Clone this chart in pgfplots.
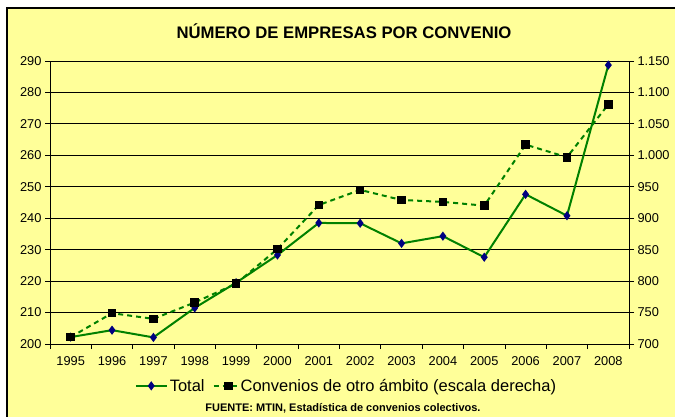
\documentclass[border=0pt]{standalone}
\usepackage{fontspec}
\setmainfont{Liberation Sans}
\usepackage{pgfplots}
\usepackage{pgfplotstable}
\pgfplotsset{compat=1.18}

\definecolor{bgyellow}{HTML}{FFFF99}
\definecolor{linegreen}{HTML}{008000}
\definecolor{navy}{HTML}{000080}

\pgfplotsset{
  totalleg/.style={legend image code/.code={
    \draw[##1,mark=none] (0pt,0pt) -- (31pt,0pt);
    \draw[##1,only marks] plot coordinates {(15.5pt,0pt)};}},
  convleg/.style={legend image code/.code={
    \draw[##1,mark=none] (0pt,0pt) -- (24pt,0pt);
    \draw[##1,only marks] plot coordinates {(15pt,0pt)};}},
}

% year index, total (left axis), convenios de otro ambito (right axis)
\pgfplotstableread{
x  total  conv
0  202.2  711
1  204.4  749
2  202.1  740
3  211.5  766
4  219.5  796
5  228.3  851
6  238.5  921
7  238.4  945
8  232.0  929
9  234.3  926
10 227.6  920
11 247.6  1017
12 240.8  997
13 288.7  1081
}\datatable

\begin{document}
\begin{tikzpicture}
\useasboundingbox (0,0) rectangle (675pt,-417pt);
\clip (0,0) rectangle (675pt,-417pt);
\fill[white] (0,0) rectangle (675pt,-417pt);
\filldraw[fill=bgyellow,draw=black,line width=1.2pt] (7pt,-8pt) rectangle (700pt,-440pt);

\node[font=\bfseries\fontsize{16.7}{19}\selectfont] at (344pt,-31pt) {NÚMERO DE EMPRESAS POR CONVENIO};

\begin{axis}[
  scale only axis,
  width=579pt, height=283pt,
  at={(50pt,-344pt)}, anchor=south west,
  xmin=-0.5, xmax=13.5,
  ymin=200, ymax=290,
  axis x line*=bottom, axis y line*=left,
  axis line style={black,line width=0.8pt},
  xtick={0,...,13},
  xticklabels={1995,1996,1997,1998,1999,2000,2001,2002,2003,2004,2005,2006,2007,2008},
  major x tick style={draw=none},
  minor xtick={-0.5,0.5,...,13.5},
  minor tick length=5pt,
  minor x tick style={black,line width=0.8pt},
  xticklabel style={yshift=-4pt},
  ytick={200,210,...,290},
  major tick length=5pt,
  tick align=outside,
  ytick style={black,line width=0.8pt},
  ymajorgrids,
  grid style={black,line width=0.8pt},
  tick label style={font=\fontsize{12.8}{14}\selectfont},
  /pgf/number format/assume math mode=true,
  legend style={at={(0.512,-0.148)},anchor=center,draw=none,fill=none,
    legend columns=2,font=\fontsize{16.5}{18}\selectfont,
    /tikz/every even column/.append style={column sep=6pt}},
  legend cell align=left,
]
\addplot[linegreen,line width=2pt,mark=diamond*,mark size=3pt,
  mark options={solid,fill=navy,draw=navy},totalleg] table[x=x,y=total]{\datatable};
\addlegendentry{Total}
\addlegendimage{linegreen,line width=2pt,dash pattern=on 5pt off 4pt,mark=square*,mark size=3.3pt,
  mark options={solid,fill=black,draw=black},convleg}
\addlegendentry{Convenios de otro ámbito (escala derecha)}
\end{axis}

\begin{axis}[
  scale only axis,
  width=579pt, height=283pt,
  at={(50pt,-344pt)}, anchor=south west,
  xmin=-0.5, xmax=13.5,
  ymin=700, ymax=1150,
  axis x line=none,
  axis y line*=right,
  axis line style={black,line width=0.8pt},
  ytick={700,750,...,1150},
  major tick length=5pt,
  tick align=outside,
  ytick style={black,line width=0.8pt},
  tick label style={font=\fontsize{12.8}{14}\selectfont},
  /pgf/number format/assume math mode=true,
  /pgf/number format/1000 sep={.},
]
\addplot[linegreen,line width=2pt,dash pattern=on 5pt off 4pt,mark=square*,mark size=3.3pt,
  mark options={solid,fill=black,draw=black}] table[x=x,y=conv]{\datatable};
\end{axis}

\node[font=\bfseries\fontsize{11}{13}\selectfont] at (343pt,-408pt) {FUENTE: MTIN, Estadística de convenios colectivos.};
\end{tikzpicture}
\end{document}
